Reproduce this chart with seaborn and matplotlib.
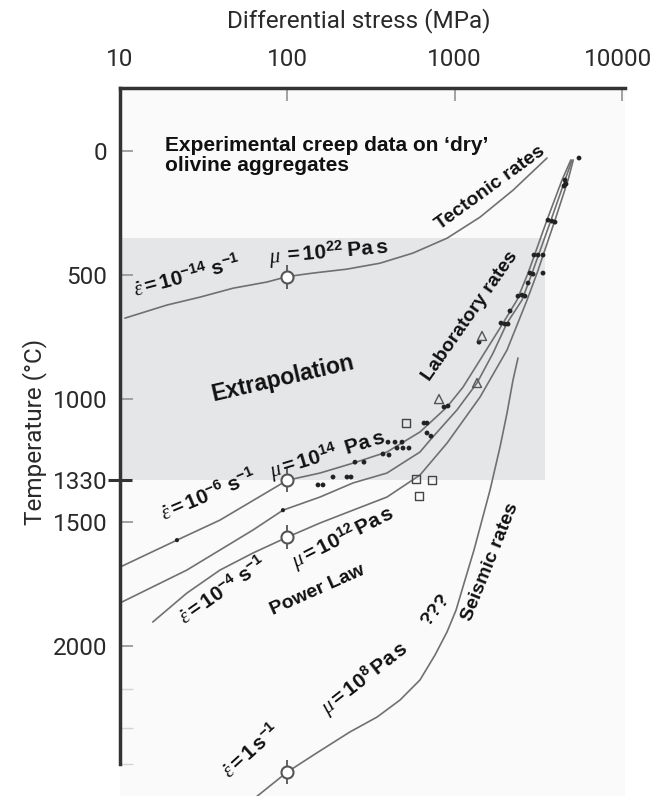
import numpy as np
import pandas as pd
import matplotlib
matplotlib.use("Agg")
import matplotlib.pyplot as plt
import matplotlib.transforms as mtransforms
import seaborn as sns

# ---------------- data ----------------
x_ticks = [10, 100, 1000, 10000]
x_tick_labels = ["10", "100", "1000", "10000"]
y_ticks = [0, 500, 1000, 1330, 1500, 2000]
y_tick_labels = ["0", "500", "1000", "1330", "1500", "2000"]
y_minor_ticks = [2175, 2330, 2478]

# extrapolation box (stress range, temperature range)
shade_x = [10, 3467]
shade_T = [353, 1330]

# tectonic rates curve (strain rate 1e-14 /s)
tect_x = [10.7, 19.1, 30.1, 47.4, 75.6, 100, 142, 227, 358, 564, 901, 1418, 2234, 3567]
tect_T = [675, 622, 590, 554, 529, 507, 493, 477, 453, 412, 352, 267, 158, 28]

# laboratory rates curves
lab6_x = [10, 21.9, 39.6, 100, 156.7, 247, 394, 621, 901, 1122, 1419, 1868, 2360, 2748, 3565, 4385, 4950]
lab6_T = [1681, 1572, 1491, 1330, 1301, 1261, 1216, 1135, 1034, 954, 844, 715, 602, 493, 279, 117, 36]

lab5_x = [10, 25.1, 62.4, 94.2, 156.7, 247, 394, 621, 713, 1033, 1361, 1698, 2056, 2529, 2903, 3767, 4571, 5035]
lab5_T = [1826, 1693, 1531, 1451, 1398, 1341, 1301, 1216, 1168, 1046, 937, 816, 695, 602, 493, 279, 117, 36]

lab4_x = [15.7, 25.1, 39.6, 62.4, 100, 156.7, 247, 394, 621, 901, 1419, 2057, 2710, 3111, 3981, 4764, 5120]
lab4_T = [1903, 1786, 1693, 1624, 1560, 1503, 1451, 1398, 1309, 1180, 994, 804, 602, 493, 279, 117, 36]

# seismic rates curve (strain rate 1 /s)
seis_x = [55.9, 100, 150, 237, 344, 472, 621, 764, 901, 1020, 1154, 1306, 1458, 1628, 1868, 2057, 2234, 2393]
seis_T = [2646, 2509, 2432, 2347, 2287, 2218, 2137, 2036, 1943, 1855, 1733, 1612, 1491, 1370, 1196, 1059, 925, 836]

# viscosity reference points (open circles)
circ_x = [100, 100, 100, 100]
circ_T = [507, 1330, 1560, 2509]

# small dots on the curves
cdot_x = [21.9, 94.2]
cdot_T = [1572, 1451]

# experimental creep data
dot_x = [152.6, 163.4, 187.6, 227.4, 240.3, 253.9, 287.3, 373.3, 405.4, 399.9, 440.4, 484.9,
         452.6, 491.6, 533.8, 656.4, 683.9, 683.9, 722.6, 864.2, 912.9, 1399, 1894, 2001,
         2086, 2144, 2393, 2529, 2635, 2748, 2823, 2942, 3376, 2983, 3151, 3376, 3617, 3821,
         3982, 4570, 4634, 4507, 5541]
dot_T = [1349, 1349, 1317, 1317, 1317, 1257, 1257, 1224, 1228, 1176, 1176, 1176,
         1200, 1200, 1200, 1099, 1099, 1139, 1152, 1034, 1030, 772, 695, 699,
         699, 646, 586, 582, 586, 533, 493, 497, 493, 420, 420, 420, 279, 283,
         287, 117, 133, 141, 28]
sq_x = [512.3, 588, 732.6, 612.8]
sq_T = [1099, 1325, 1330, 1394]
tri_x = [806.6, 1361, 1458]
tri_T = [1002, 937, 747]

# annotations: text, stress, temperature, rotation, size
ann_text = [
    "Tectonic rates",
    r"$\dot{\varepsilon}\mathbf{=10^{-14}\ s^{-1}}$",
    r"$\mu\mathbf{\ =10^{22}\ Pa\,s}$",
    "Extrapolation",
    "Laboratory rates",
    r"$\dot{\varepsilon}\mathbf{=10^{-6}\ s^{-1}}$",
    r"$\mu\mathbf{=10^{14}\ \ Pa\,s}$",
    r"$\mu\mathbf{=10^{12}\,Pa\,s}$",
    r"$\dot{\varepsilon}\mathbf{=10^{-4}\ s^{-1}}$",
    "Power Law",
    "Seismic rates",
    "???",
    r"$\mu\mathbf{=10^{8}\,Pa\,s}$",
    r"$\dot{\varepsilon}\mathbf{=1\,s^{-1}}$",
]
ann_x = [1628, 25.1, 177, 94.3, 1236, 33.6, 172.6, 215, 41.3, 152.6, 1628, 774, 291, 60.7]
ann_T = [149, 505, 408, 917, 667, 1390, 1228, 1560, 1774, 1774, 1661, 1855, 2129, 2424]
ann_rot = [36, 15, 5, 13, 55, 23, 17, 27, 35, 24, 68, 52, 38, 42]
ann_size = [14, 15, 15, 16.5, 14, 15, 15, 15, 15, 14, 14, 14, 15, 15]

header = "Experimental creep data on \u2018dry\u2019\nolivine aggregates"
header_x, header_T = 18.6, 18

# ---------------- style ----------------
sns.set_theme(style="white")
plt.rcParams["font.family"] = ["Roboto", "DejaVu Sans"]
plt.rcParams["mathtext.fontset"] = "custom"
plt.rcParams["mathtext.rm"] = "Liberation Sans:bold"
plt.rcParams["mathtext.bf"] = "Liberation Sans:bold"
plt.rcParams["mathtext.sf"] = "Liberation Sans:bold"
plt.rcParams["mathtext.it"] = "Liberation Serif:italic"

fig = plt.figure(figsize=(6.53, 7.96), dpi=100)
ax = fig.add_axes([120 / 653, 0, 505 / 653, 708 / 796])
ax.set_xscale("log")
ax.set_xlim(10, 10435)
ax.set_ylim(2606, -255)
ax.set_facecolor("#fafafa")

ax.fill_between(shade_x, shade_T[0], shade_T[1], color="#e5e6e8", lw=0, zorder=0.5)

curve_col = "#707070"
for cx, cy in [(tect_x, tect_T), (lab6_x, lab6_T), (lab5_x, lab5_T), (lab4_x, lab4_T), (seis_x, seis_T)]:
    sns.lineplot(x=cx, y=cy, sort=False, estimator=None, color=curve_col, lw=1.2, ax=ax, zorder=2)

# data markers
sns.scatterplot(x=dot_x, y=dot_T, s=12, color="#222222", edgecolor="none", ax=ax, zorder=4)
sns.scatterplot(x=cdot_x, y=cdot_T, s=9, color="#222222", edgecolor="none", ax=ax, zorder=4)
sns.scatterplot(x=sq_x, y=sq_T, marker="s", s=32, facecolor="none", edgecolor="#444444", linewidth=1.0, ax=ax, zorder=4)
sns.scatterplot(x=tri_x, y=tri_T, marker="^", s=42, facecolor="none", edgecolor="#555555", linewidth=1.0, ax=ax, zorder=4)
sns.scatterplot(x=circ_x, y=circ_T, marker="|", s=300, color="#555555", linewidth=1.3, ax=ax, zorder=5)
sns.scatterplot(x=circ_x, y=circ_T, marker="o", s=75, facecolor="white", edgecolor="#555555", linewidth=1.5, ax=ax, zorder=6)

# annotations
for t, x, y, r, fs in zip(ann_text, ann_x, ann_T, ann_rot, ann_size):
    ax.text(x, y, t, rotation=r, rotation_mode="anchor", ha="center", va="center",
            fontsize=fs, fontweight="bold", family="Liberation Sans", color="#111111", zorder=7)
ax.text(header_x, header_T, header, ha="left", va="center", fontsize=15, fontweight="bold",
        family="Liberation Sans", color="#111111", linespacing=1.12, zorder=7)

# axes / ticks
ax.xaxis.tick_top()
ax.set_xticks(x_ticks)
ax.set_xticklabels(x_tick_labels)
ax.xaxis.set_minor_locator(matplotlib.ticker.NullLocator())
ax.set_yticks(y_ticks)
ax.set_yticklabels(y_tick_labels)
ax.set_yticks(y_minor_ticks, minor=True)
ax.tick_params(axis="x", which="major", direction="in", length=9, width=1.3, color="#9a9a9a",
               pad=12, labelsize=17.5, labelcolor="#2a2a2a", top=True, bottom=False)
ax.tick_params(axis="y", which="major", direction="in", length=9.5, width=1.3, color="#9a9a9a",
               pad=9, labelsize=17.5, labelcolor="#2a2a2a", left=True, right=False)
ax.tick_params(axis="y", which="minor", direction="in", length=9.5, width=1.0, color="#d4d4d4",
               left=True, right=False)

# keep the last stress label inside the figure
last_lab = ax.get_xticklabels()[-1]
last_lab.set_transform(last_lab.get_transform() + mtransforms.ScaledTranslation(-4 / 100, 0, fig.dpi_scale_trans))

t1330 = ax.yaxis.get_major_ticks()[3]
t1330.tick1line.set_marker("_")
t1330.tick1line.set_markersize(17)
t1330.tick1line.set_markeredgewidth(2.2)
t1330.tick1line.set_markeredgecolor("#333333")

for s in ["right", "bottom"]:
    ax.spines[s].set_visible(False)
for s in ["left", "top"]:
    ax.spines[s].set_color("#333333")
    ax.spines[s].set_linewidth(2.5)
ax.spines["left"].set_bounds(2478, -255)

fig.text(359 / 653, 1 - 21 / 796, "Differential stress (MPa)", ha="center", va="center",
         fontsize=17.5, color="#2a2a2a")
fig.text(35 / 653, 1 - 432 / 796, "Temperature (\u00b0C)", ha="center", va="center", rotation=90,
         fontsize=17.5, color="#2a2a2a")

ax.set_xlabel("")
ax.set_ylabel("")
fig.savefig("out.png", dpi=100)
